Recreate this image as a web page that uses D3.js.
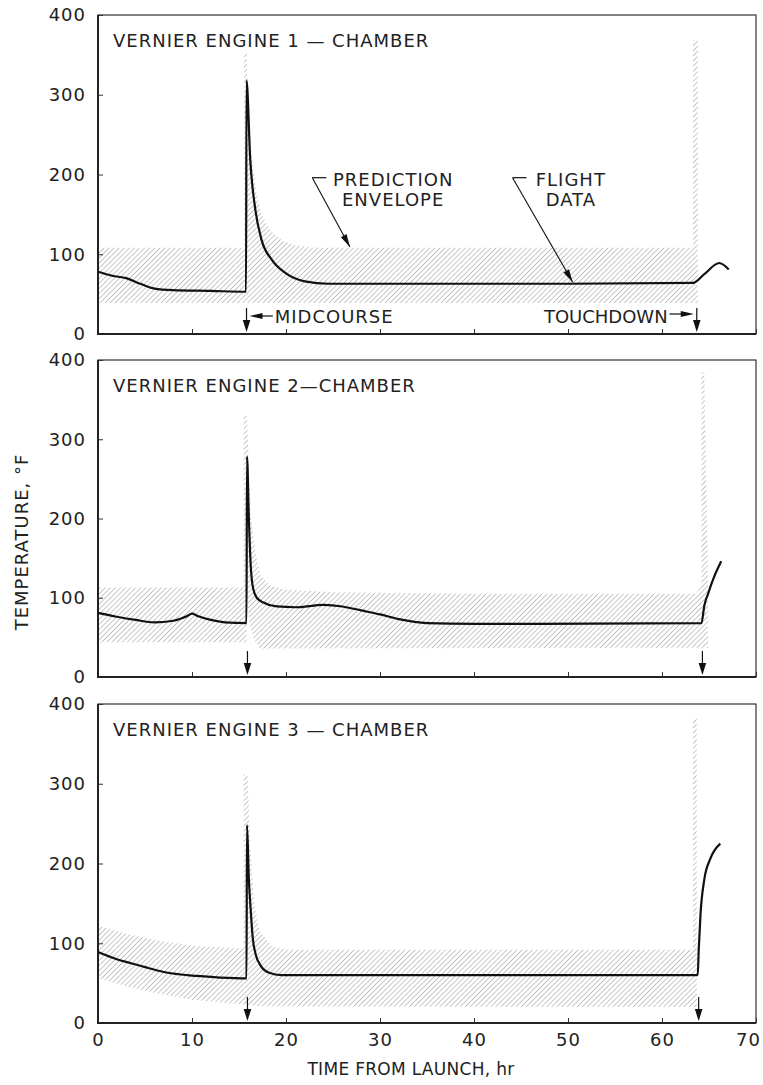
<!DOCTYPE html>
<html>
<head>
<meta charset="utf-8">
<script src="https://cdn.jsdelivr.net/npm/d3@7"></script>
<style>
  body { margin: 0; background: #fff; }
  text { font-family: "DejaVu Sans", sans-serif; fill: #222; letter-spacing: 1px; }
</style>
</head>
<body>
<div id="chart"></div>
<script>
// Surveyor vernier engine chamber temperatures vs time from launch
// values (hr, deg F)

const xTicks = [0, 10, 20, 30, 40, 50, 60, 70];
const yTicks = [0, 100, 200, 300, 400];
const panelTitles = ['VERNIER ENGINE 1 \u2014 CHAMBER', 'VERNIER ENGINE 2\u2014CHAMBER', 'VERNIER ENGINE 3 \u2014 CHAMBER'];

// flight data [t, temp]
const flight1 = [[0,78],[1.5,73],[3,70],[4.5,63],[6,57],[8,55],[12,54],[15.75,53],[15.8,318],[16.2,218],[16.75,155],
  [17.4,118],[18.5,93],[20,76],[22,66],[24.5,63],[30,63],[40,63],[50,63],[63.3,64],[64.5,75],[66.1,89],[67.1,81]];
const flight2 = [[0,81],[2,76],[4,72],[6,69],[8,71],[9.5,77],[10,80],[10.6,77],[12,72],[13.5,69],[15.8,68],[15.85,278],[16.05,200],
  [16.25,140],[16.5,112],[16.9,100],[17.6,94],[19,89],[21,88],[24,91],[26,89],[28,84],[30,79],[32,73],[35,68],
  [40,67],[64.2,68],[64.5,90],[64.9,105],[65.5,125],[66.3,146]];
const flight3 = [[0,89],[2,80],[3.5,75],[5,70],[7,64],[10.5,59],[13,57],[15.8,56],[15.85,248],[16.05,180],
  [16.25,141],[16.45,108],[16.8,85],[17.3,72],[18.2,63],[19.5,60],[63.8,60],[63.9,90],[64.1,137],[64.5,180],
  [65.1,205],[66.2,225]];

// prediction envelopes, closed outlines [t, temp]
const envelope1 = [[[0,108],[15.55,108],[15.55,352],[15.8,352],[15.95,300],[16.3,230],[16.8,180],[17.4,150],
  [18.3,130],[19.5,118],[21,111],[23,108],[63.3,108],[63.3,368],[63.8,368],[63.8,39],[0,39]]];
const envelope2 = [[[0,113],[15.8,113],[15.8,44],[0,44]],
  [[15.5,113],[15.5,329],[15.85,329],[16.05,260],[16.3,200],[16.7,160],[17.3,128],[18.3,115],[20,110],[25,107],
   [40,105],[63.6,105],[64.2,115],[64.2,385],[64.5,385],[64.9,122],[64.9,37],[17.2,36],[16.6,48],[16.1,68],[15.9,100]]];
const envelope3 = [[[0,122],[3,112],[6,104],[10,97],[15.5,93],[15.5,312],[15.9,312],[16.2,220],[16.6,150],
  [17.2,115],[18.5,96],[20,92],[63.3,92],[63.3,382],[63.7,382],[63.7,20],[17,21],[15.8,23],[10,29],[6,38],[3,46],[0,56]]];

// midcourse / touchdown times per engine
const midcourseT = [15.8, 15.9, 15.9];
const touchdownT = [63.7, 64.3, 63.9];

const flights = [flight1, flight2, flight3];
const envelopes = [envelope1, envelope2, envelope3];

const width = 763, height = 1085;
const fontSize = 18;
const panels = [{top: 15, bottom: 334}, {top: 360, bottom: 677}, {top: 704, bottom: 1023}];

const svg = d3.select('#chart').append('svg')
    .attr('width', width)
    .attr('height', height);

// hatch for prediction envelope
svg.append('defs').append('pattern')
    .attr('id', 'hatch')
    .attr('patternUnits', 'userSpaceOnUse')
    .attr('width', 3.6).attr('height', 3.6)
    .attr('patternTransform', 'rotate(45)')
  .append('line')
    .attr('x1', 0).attr('y1', 0).attr('x2', 0).attr('y2', 3.6)
    .attr('stroke', '#8c8c8c')
    .attr('stroke-width', 1);

const x = d3.scaleLinear().domain([0, 70]).range([98, 756]);

function arrowHead(g, tx, ty, angle, len = 11, half = 3.5) {
    // filled triangle, tip at (tx,ty), pointing along angle (deg)
    g.append('path')
        .attr('d', `M0,0L${-len},${-half}L${-len},${half}Z`)
        .attr('transform', `translate(${tx},${ty}) rotate(${angle})`)
        .attr('fill', '#111');
}

function styleTicks(a) {
    a.select('.domain').remove();
    a.selectAll('line').attr('stroke', '#333');
    a.selectAll('text')
        .attr('font-size', fontSize)
        .style('font-family', '"DejaVu Sans", sans-serif')
        .attr('fill', '#222');
}

panels.forEach((p, i) => {
    const y = d3.scaleLinear().domain([0, 400]).range([p.bottom, p.top]);
    const g = svg.append('g');

    // envelope
    const outline = d3.line().x(d => x(d[0])).y(d => y(d[1]));
    g.selectAll('.env')
        .data(envelopes[i])
        .enter()
        .append('path')
        .attr('class', 'env')
        .attr('d', d => outline(d) + 'Z')
        .attr('fill', 'url(#hatch)');

    // axes
    g.append('g')
        .attr('transform', `translate(${x(0)},0)`)
        .call(d3.axisLeft(y).tickValues(yTicks).tickSize(-5).tickPadding(12))
        .call(styleTicks);

    const bottomAxis = d3.axisBottom(x).tickValues(xTicks).tickSize(-5).tickPadding(10);
    if (i < 2) bottomAxis.tickFormat('');
    g.append('g')
        .attr('transform', `translate(0,${y(0)})`)
        .call(bottomAxis)
        .call(styleTicks)
        .call(a => a.selectAll('text').filter(d => d === 70).attr('dx', -8));

    // frame
    g.append('rect')
        .attr('x', x(0)).attr('y', y(400))
        .attr('width', x(70) - x(0)).attr('height', y(0) - y(400))
        .attr('fill', 'none')
        .attr('stroke', '#333')
        .attr('stroke-width', 1.2);
    g.append('path')
        .attr('d', `M${x(0)},${y(400)}V${y(0)}H${x(70)}`)
        .attr('fill', 'none')
        .attr('stroke', '#222')
        .attr('stroke-width', 2);

    // flight data
    const line = d3.line().x(d => x(d[0])).y(d => y(d[1])).curve(d3.curveMonotoneX);
    g.append('path')
        .attr('d', line(flights[i]))
        .attr('fill', 'none')
        .attr('stroke', '#111')
        .attr('stroke-width', 2.2)
        .attr('stroke-linejoin', 'round');

    // event arrows
    [midcourseT[i], touchdownT[i]].forEach(t => {
        g.append('line')
            .attr('x1', x(t)).attr('x2', x(t))
            .attr('y1', y(0) - 26).attr('y2', y(0) - 10)
            .attr('stroke', '#111').attr('stroke-width', 1.2);
        arrowHead(g, x(t), y(0) - 2, 90, 12, 3.8);
    });

    // panel title
    g.append('text')
        .attr('x', 113)
        .attr('y', y(400) + 32)
        .attr('font-size', fontSize)
        .text(panelTitles[i]);

    if (i === 0) {
        // midcourse / touchdown labels
        const ly = y(0) - 18;
        arrowHead(g, x(midcourseT[0]) + 3, ly, 180, 13, 3);
        g.append('line')
            .attr('x1', x(midcourseT[0]) + 14).attr('x2', x(18.6))
            .attr('y1', ly).attr('y2', ly)
            .attr('stroke', '#111').attr('stroke-width', 1.2);
        g.append('text')
            .attr('x', x(18.8)).attr('y', ly + 7)
            .attr('font-size', fontSize)
            .text('MIDCOURSE');
        g.append('text')
            .attr('x', x(60.6)).attr('y', ly + 7)
            .attr('text-anchor', 'end')
            .attr('font-size', fontSize)
            .style('letter-spacing', '0px')
            .text('TOUCHDOWN');
        g.append('line')
            .attr('x1', x(60.8)).attr('x2', x(62.5))
            .attr('y1', ly - 2).attr('y2', ly - 2)
            .attr('stroke', '#111').attr('stroke-width', 1.2);
        arrowHead(g, x(touchdownT[0]) - 3, ly - 2, 0, 13, 3);

        // leaders
        const leaders = [
            {lines: ['PREDICTION', 'ENVELOPE'], cx: 31.4, from: [22.8, 196], to: [26.8, 109]},
            {lines: ['FLIGHT', 'DATA'], cx: 50.3, from: [44.1, 196], to: [50.5, 65]}
        ];
        leaders.forEach(l => {
            l.lines.forEach((s, k) => {
                g.append('text')
                    .attr('x', x(l.cx))
                    .attr('y', y(l.from[1]) + 8 + k * 20)
                    .attr('text-anchor', 'middle')
                    .attr('font-size', fontSize)
                    .text(s);
            });
            g.append('line')
                .attr('x1', x(l.from[0])).attr('x2', x(l.from[0]) + 14)
                .attr('y1', y(l.from[1])).attr('y2', y(l.from[1]))
                .attr('stroke', '#111').attr('stroke-width', 1.2);
            const x1 = x(l.from[0]), y1 = y(l.from[1]), x2 = x(l.to[0]), y2 = y(l.to[1]);
            g.append('line')
                .attr('x1', x1).attr('y1', y1).attr('x2', x2).attr('y2', y2)
                .attr('stroke', '#111').attr('stroke-width', 1.1);
            arrowHead(g, x2, y2, Math.atan2(y2 - y1, x2 - x1) * 180 / Math.PI, 13, 3.2);
        });
    }
});

// axis titles
svg.append('text')
    .attr('transform', 'translate(28,542) rotate(-90)')
    .attr('text-anchor', 'middle')
    .attr('font-size', fontSize)
    .text('TEMPERATURE, \u00B0F');

svg.append('text')
    .attr('x', 411)
    .attr('y', 1075)
    .attr('text-anchor', 'middle')
    .attr('font-size', 17)
    .style('letter-spacing', '0.3px')
    .text('TIME FROM LAUNCH, hr');
</script>
</body>
</html>
